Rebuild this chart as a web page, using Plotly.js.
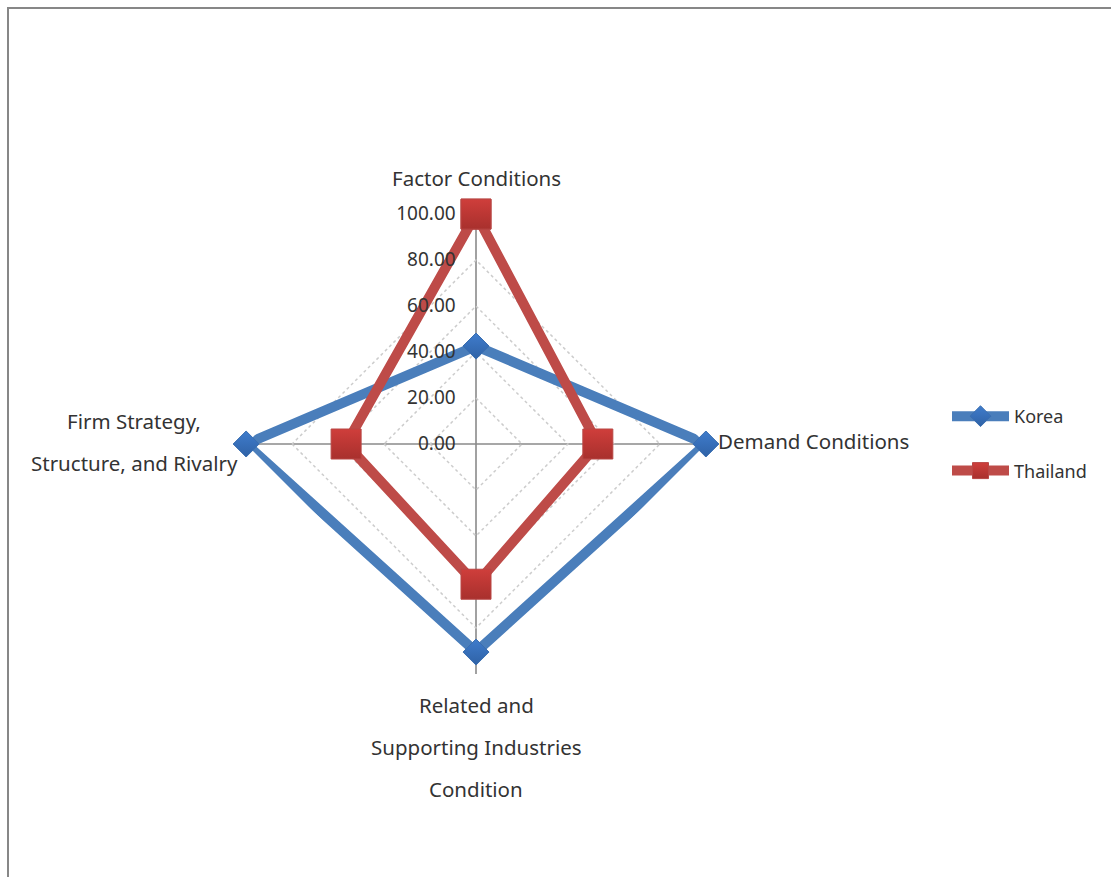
<!DOCTYPE html>
<html>
<head>
<meta charset="utf-8">
<script src="https://cdn.plot.ly/plotly-3.0.1.min.js"></script>
<style>html,body{margin:0;padding:0;background:#fff}#chart{width:1111px;height:877px}</style>
</head>
<body>
<div id="chart"></div>
<script>
// Data
const categories = ["Factor Conditions", "Demand Conditions", "Related and Supporting Industries Condition", "Firm Strategy, Structure, and Rivalry"];
const koreaValues = [42.6, 100, 90.5, 100];
const thailandValues = [100, 53, 61, 56.5];
const seriesNames = ["Korea", "Thailand"];
const radialTicks = [0, 20, 40, 60, 80, 100];
const radialMax = 100;

const closeLoop = a => a.concat([a[0]]);
const font = "Noto Sans, Open Sans, sans-serif";
const textColor = "#333333";

const traces = [
  {
    type: "scatterpolar",
    name: seriesNames[0],
    legendgroup: "k",
    r: closeLoop(koreaValues),
    theta: closeLoop(categories),
    mode: "lines+markers",
    line: {color: "#4a7ebb", width: 10},
    marker: {symbol: "diamond", size: 20, color: "#3f7ccc",
             gradient: {type: "vertical", color: "#2f62a6"},
             line: {color: "#3a6eb0", width: 1}},
    cliponaxis: false
  },
  {
    type: "scatterpolar",
    name: seriesNames[1],
    legendgroup: "t",
    r: closeLoop(thailandValues),
    theta: closeLoop(categories),
    mode: "lines+markers",
    line: {color: "#be4b48", width: 10},
    marker: {symbol: "square", size: 30, color: "#cf3e3b",
             gradient: {type: "vertical", color: "#a8302d"},
             line: {color: "#b84644", width: 1}},
    cliponaxis: false
  },
  // empty carrier so the overlay polar (value-scale labels, drawn on top) exists
  {type: "scatterpolar", subplot: "polar2", r: [], theta: [], showlegend: false, hoverinfo: "skip"}
];

const W = 1111, H = 877;
const px = x => x / W, py = y => 1 - y / H;
const cx = 476, cy = 444, R = 230, labelShift = 17;

const labelLines = [
  {text: "Factor Conditions", x: 476, y: 178, anchor: "center"},
  {text: "Demand Conditions", x: 716, y: 441, anchor: "left"},
  {text: "Related and", x: 476, y: 705, anchor: "center"},
  {text: "Supporting Industries", x: 476, y: 747, anchor: "center"},
  {text: "Condition", x: 476, y: 789, anchor: "center"},
  {text: "Firm Strategy,", x: 134, y: 421, anchor: "center"},
  {text: "Structure, and Rivalry", x: 134, y: 463, anchor: "center"}
];

const layout = {
  width: W, height: H,
  margin: {l: 0, r: 0, t: 0, b: 0},
  paper_bgcolor: "#ffffff",
  font: {family: font, color: textColor, size: 18},
  showlegend: true,
  legend: {
    x: px(947), y: py(398), xanchor: "left", yanchor: "top",
    font: {family: font, size: 18, color: textColor},
    itemwidth: 57,
    traceorder: "grouped",
    tracegroupgap: 28,
    bgcolor: "rgba(0,0,0,0)"
  },
  polar: {
    domain: {x: [px(cx - R), px(cx + R)], y: [py(cy + R), py(cy - R)]},
    bgcolor: "rgba(0,0,0,0)",
    gridshape: "linear",
    angularaxis: {
      direction: "clockwise",
      rotation: 90,
      showticklabels: false,
      ticks: "",
      showgrid: true,
      gridcolor: "#8a8a8a",
      gridwidth: 1.6,
      showline: false
    },
    radialaxis: {
      range: [0, radialMax + 0.05],
      tickvals: radialTicks,
      angle: 90,
      showticklabels: false,
      showline: false,
      ticks: "",
      showgrid: true,
      gridcolor: "#cccccc",
      griddash: "dot",
      gridwidth: 1.5
    }
  },
  polar2: {
    domain: {x: [px(cx - R - labelShift), px(cx + R - labelShift)], y: [py(cy + R), py(cy - R)]},
    bgcolor: "rgba(0,0,0,0)",
    gridshape: "linear",
    angularaxis: {
      direction: "clockwise", rotation: 90, visible: false,
      showgrid: false, showline: false, showticklabels: false, ticks: ""
    },
    radialaxis: {
      range: [0, radialMax + 0.05],
      tickvals: radialTicks,
      tickformat: ".2f",
      angle: 90,
      side: "counterclockwise",
      showline: false,
      showgrid: false,
      ticks: "",
      tickangle: 90,
      tickfont: {family: font, size: 19, color: textColor}
    }
  },
  annotations: labelLines.map(l => ({
    text: l.text, x: px(l.x), y: py(l.y), xref: "paper", yref: "paper",
    xanchor: l.anchor, yanchor: "middle", showarrow: false,
    font: {family: font, size: 20.5, color: textColor}
  })),
  shapes: [
    {type: "line", xref: "paper", yref: "paper", x0: px(7), x1: 1, y0: py(8), y1: py(8),
     line: {color: "#878787", width: 2}},
    {type: "line", xref: "paper", yref: "paper", x0: px(8), x1: px(8), y0: py(7), y1: 0,
     line: {color: "#878787", width: 2}}
  ]
};

Plotly.newPlot("chart", traces, layout, {displayModeBar: false, staticPlot: true});
</script>
</body>
</html>
